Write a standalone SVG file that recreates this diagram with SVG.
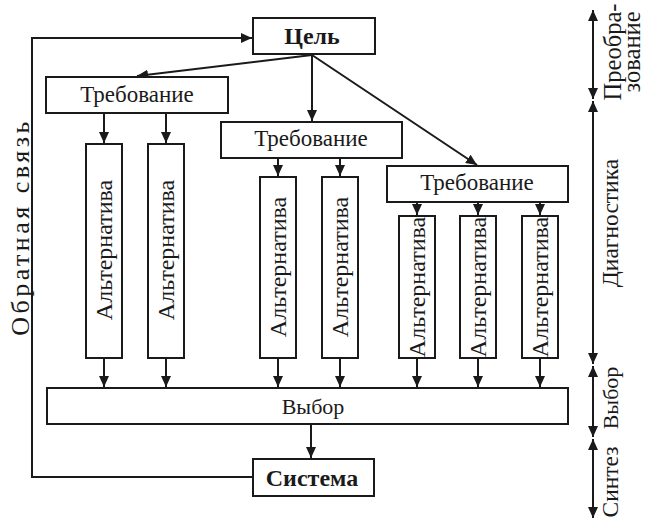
<svg xmlns="http://www.w3.org/2000/svg" width="645" height="521" viewBox="0 0 645 521">
<defs>
<marker id="ah" markerUnits="userSpaceOnUse" markerWidth="12" markerHeight="10" refX="11" refY="5" orient="auto">
<path d="M0,0 L11,5 L0,10 z" fill="#1a1a1a"/>
</marker>
<marker id="ahs" markerUnits="userSpaceOnUse" markerWidth="12" markerHeight="10" refX="11" refY="5" orient="auto-start-reverse">
<path d="M0,0 L11,5 L0,10 z" fill="#1a1a1a"/>
</marker>
<style>
.box{fill:#fff;stroke:#1a1a1a;stroke-width:2}
.t{font-family:"Liberation Serif","Times New Roman",serif;font-size:22px;fill:#1a1a1a;text-anchor:middle}
.b{font-weight:bold;font-size:24px}
.r{font-size:23px}
.a{font-size:24px}
.p{font-size:23.5px}
.c{fill:none;stroke:#1a1a1a;stroke-width:2}
</style>
</defs>
<rect width="645" height="521" fill="#fff"/>
<g id="connectors">
<line class="c" x1="312" y1="55" x2="137" y2="76" marker-end="url(#ah)"/>
<line class="c" x1="312" y1="55" x2="312" y2="121" marker-end="url(#ah)"/>
<line class="c" x1="312" y1="55" x2="477" y2="165" marker-end="url(#ah)"/>
<line class="c" x1="104" y1="113" x2="104" y2="143" marker-end="url(#ah)"/>
<line class="c" x1="166" y1="113" x2="166" y2="143" marker-end="url(#ah)"/>
<line class="c" x1="278" y1="158" x2="278" y2="176" marker-end="url(#ah)"/>
<line class="c" x1="340" y1="158" x2="340" y2="176" marker-end="url(#ah)"/>
<line class="c" x1="417" y1="202" x2="417" y2="215" marker-end="url(#ah)"/>
<line class="c" x1="478" y1="202" x2="478" y2="215" marker-end="url(#ah)"/>
<line class="c" x1="540" y1="202" x2="540" y2="215" marker-end="url(#ah)"/>
<line class="c" x1="104" y1="358" x2="104" y2="387" marker-end="url(#ah)"/>
<line class="c" x1="166" y1="358" x2="166" y2="387" marker-end="url(#ah)"/>
<line class="c" x1="278" y1="358" x2="278" y2="387" marker-end="url(#ah)"/>
<line class="c" x1="340" y1="358" x2="340" y2="387" marker-end="url(#ah)"/>
<line class="c" x1="417" y1="358" x2="417" y2="387" marker-end="url(#ah)"/>
<line class="c" x1="478" y1="358" x2="478" y2="387" marker-end="url(#ah)"/>
<line class="c" x1="540" y1="358" x2="540" y2="387" marker-end="url(#ah)"/>
<line class="c" x1="311" y1="424" x2="311" y2="458" marker-end="url(#ah)"/>
<polyline class="c" points="253,477 32,477 32,38 252,38" marker-end="url(#ah)"/>
<line class="c" x1="593" y1="10" x2="593" y2="99" marker-start="url(#ahs)" marker-end="url(#ah)"/>
<line class="c" x1="593" y1="101" x2="593" y2="364" marker-start="url(#ahs)" marker-end="url(#ah)"/>
<line class="c" x1="593" y1="366" x2="593" y2="437" marker-start="url(#ahs)" marker-end="url(#ah)"/>
<line class="c" x1="593" y1="439" x2="593" y2="518" marker-start="url(#ahs)" marker-end="url(#ah)"/>
</g>
<g id="goal"><rect class="box" x="253" y="18" width="122" height="36"/><text class="t b" x="312" y="44">Цель</text></g>
<g id="req1"><rect class="box" x="46" y="77" width="182" height="36"/><text class="t r" x="137" y="102">Требование</text></g>
<g id="req2"><rect class="box" x="221" y="122" width="181" height="36"/><text class="t r" x="311" y="146">Требование</text></g>
<g id="req3"><rect class="box" x="387" y="166" width="181" height="36"/><text class="t r" x="477" y="190">Требование</text></g>
<g id="alt1"><rect class="box" x="86" y="144" width="36" height="214"/><text class="t a" transform="translate(112,250) rotate(-90)">Альтернатива</text></g>
<g id="alt2"><rect class="box" x="148" y="144" width="36" height="214"/><text class="t a" transform="translate(174,250) rotate(-90)">Альтернатива</text></g>
<g id="alt3"><rect class="box" x="260" y="177" width="36" height="181"/><text class="t a" transform="translate(286,267) rotate(-90)">Альтернатива</text></g>
<g id="alt4"><rect class="box" x="322" y="177" width="36" height="181"/><text class="t a" transform="translate(348,267) rotate(-90)">Альтернатива</text></g>
<g id="alt5"><rect class="box" x="399" y="216" width="36" height="142"/><text class="t a" transform="translate(425,287) rotate(-90)">Альтернатива</text></g>
<g id="alt6"><rect class="box" x="460" y="216" width="36" height="142"/><text class="t a" transform="translate(486,287) rotate(-90)">Альтернатива</text></g>
<g id="alt7"><rect class="box" x="522" y="216" width="36" height="142"/><text class="t a" transform="translate(548,287) rotate(-90)">Альтернатива</text></g>
<g id="choice"><rect class="box" x="47" y="388" width="521" height="36"/><text class="t" x="313" y="414">Выбор</text></g>
<g id="system"><rect class="box" x="253" y="459" width="121" height="37"/><text class="t b" x="312" y="486">Система</text></g>
<g id="feedback-label"><text class="t" style="font-size:26px;letter-spacing:3.5px" transform="translate(29,227) rotate(-90)">Обратная связь</text></g>
<g id="phases">
<text class="t" style="font-size:24.5px" transform="translate(621,52) rotate(-90)">Преобра-</text>
<text class="t" style="font-size:24.5px" transform="translate(640,52) rotate(-90)">зование</text>
<text class="t p" transform="translate(618,223) rotate(-90)">Диагностика</text>
<text class="t" transform="translate(618,398) rotate(-90)">Выбор</text>
<text class="t p" transform="translate(618,482) rotate(-90)">Синтез</text>
</g>
</svg>
